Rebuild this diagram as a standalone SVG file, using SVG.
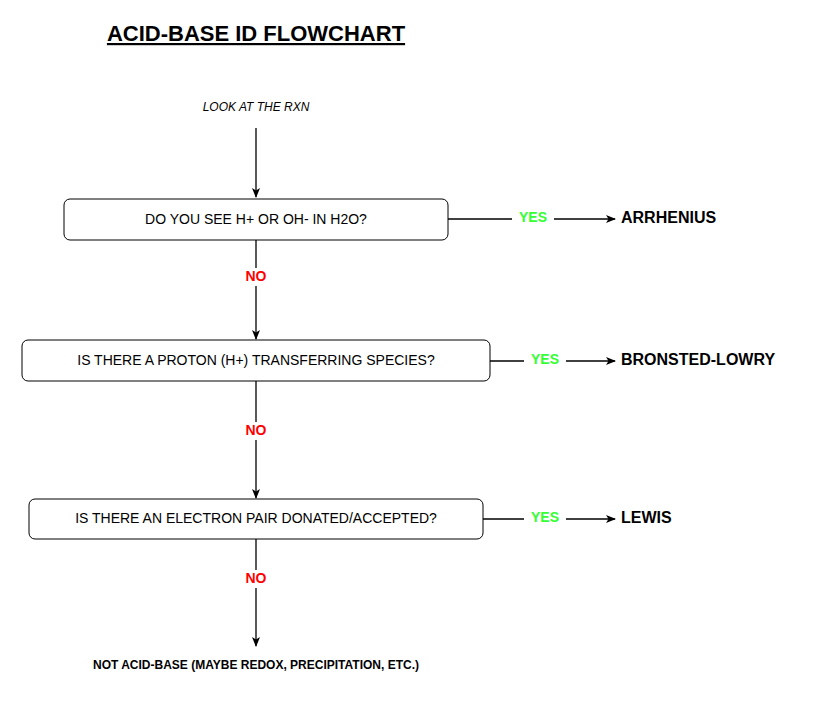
<svg xmlns="http://www.w3.org/2000/svg" width="834" height="703" viewBox="0 0 834 703">
<style>
text{font-family:"Liberation Sans",Arial,sans-serif}
.box{fill:#fff;stroke:#000;stroke-width:1}
.bt{font-size:14px;text-anchor:middle;dominant-baseline:middle}
.ln{stroke:#000;stroke-width:1.3;fill:none}
.yes{fill:#33ff33;font-weight:bold;font-size:14px;text-anchor:middle;dominant-baseline:middle}
.no{fill:#ff0000;font-weight:bold;font-size:14px;text-anchor:middle;dominant-baseline:middle}
.res{font-weight:bold;font-size:16px;dominant-baseline:middle}
</style>
<defs><marker id="a" markerWidth="10" markerHeight="8" refX="9" refY="4" orient="auto" markerUnits="userSpaceOnUse"><path d="M0,0L10,4L0,8L2.5,4Z" fill="#000"/></marker></defs>
<rect width="834" height="703" fill="#fff"/>
<text x="256" y="41" font-size="22" font-weight="bold" text-anchor="middle" text-decoration="underline">ACID-BASE ID FLOWCHART</text>
<text x="256" y="108" font-size="12" font-style="italic" text-anchor="middle" dominant-baseline="middle">LOOK AT THE RXN</text>
<g id="connectors">
<path class="ln" d="M256,128V197" marker-end="url(#a)"/>
<path class="ln" d="M448,219H615" marker-end="url(#a)"/>
<path class="ln" d="M256,240V339" marker-end="url(#a)"/>
<path class="ln" d="M490,361H615" marker-end="url(#a)"/>
<path class="ln" d="M256,381V498" marker-end="url(#a)"/>
<path class="ln" d="M483,519H615" marker-end="url(#a)"/>
<path class="ln" d="M256,539V646" marker-end="url(#a)"/>
<rect x="512" y="209" width="42" height="18" fill="#fff"/><text class="yes" x="533" y="218">YES</text>
<rect x="524" y="351" width="42" height="18" fill="#fff"/><text class="yes" x="545" y="360">YES</text>
<rect x="524" y="509" width="42" height="18" fill="#fff"/><text class="yes" x="545" y="518">YES</text>
<rect x="240" y="268" width="32" height="18" fill="#fff"/><text class="no" x="256" y="277">NO</text>
<rect x="240" y="422" width="32" height="18" fill="#fff"/><text class="no" x="256" y="431">NO</text>
<rect x="240" y="570" width="32" height="18" fill="#fff"/><text class="no" x="256" y="579">NO</text>
</g>
<g id="q1"><rect class="box" x="64" y="199" width="384" height="41" rx="6"/><text class="bt" x="256" y="220">DO YOU SEE H+ OR OH- IN H2O?</text></g>
<g id="q2"><rect class="box" x="22" y="340" width="468" height="41" rx="6"/><text class="bt" x="256" y="361">IS THERE A PROTON (H+) TRANSFERRING SPECIES?</text></g>
<g id="q3"><rect class="box" x="29" y="499" width="454" height="40" rx="6"/><text class="bt" x="256" y="519">IS THERE AN ELECTRON PAIR DONATED/ACCEPTED?</text></g>
<g id="r1"><text class="res" x="621" y="219">ARRHENIUS</text></g>
<g id="r2"><text class="res" x="621" y="361">BRONSTED-LOWRY</text></g>
<g id="r3"><text class="res" x="621" y="519">LEWIS</text></g>
<g id="end"><text x="256" y="666" font-size="12" font-weight="bold" text-anchor="middle" dominant-baseline="middle">NOT ACID-BASE (MAYBE REDOX, PRECIPITATION, ETC.)</text></g>
</svg>
